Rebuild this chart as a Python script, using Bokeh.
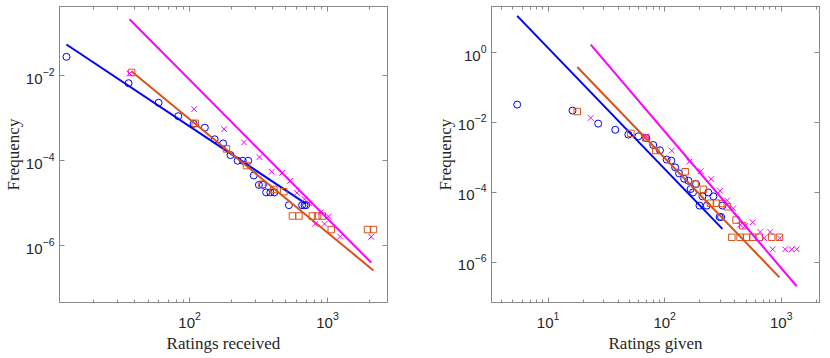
from bokeh.plotting import figure
from bokeh.layouts import row
from bokeh.models import FixedTicker, LogAxis, Range1d, CustomJSTickFormatter
from bokeh.embed import file_html
from bokeh.resources import INLINE
import numpy as np

# ---------------- data: ratings received (left) ----------------
recv_blue_x = [12.8, 36.1, 59.6, 82.8, 107, 129, 152, 175, 198, 223, 243, 266, 292, 318, 340,
               359, 385, 411, 525, 654, 681, 700]
recv_blue_y = [0.028, 0.0067, 0.00232, 0.00112, 7.4e-4, 6.0e-4, 3.2e-4, 2.55e-4, 1.36e-4, 1.0e-4,
               1.0e-4, 1.0e-4, 4.5e-5, 2.7e-5, 2.7e-5, 1.8e-5, 1.8e-5, 1.8e-5, 9.0e-6, 9.0e-6,
               9.0e-6, 9.0e-6]
recv_orange_x = [38.0, 110, 185, 259, 335, 408, 482, 557, 621, 776, 847, 916, 1065, 1950, 2153]
recv_orange_y = [0.012, 7.6e-4, 1.9e-4, 7.7e-5, 2.8e-5, 2.1e-5, 1.87e-5, 5.0e-6, 5.0e-6, 5.0e-6,
                 5.0e-6, 5.0e-6, 2.4e-6, 2.4e-6, 2.4e-6]
recv_mag_x = [36.7, 108, 178, 248, 321, 394, 470, 535, 601, 681, 734, 815, 894, 951, 1021, 1236, 2075]
recv_mag_y = [0.0113, 1.64e-3, 5.55e-4, 2.7e-4, 1.22e-4, 5.5e-5, 5.2e-5, 3.35e-5, 1.75e-5, 1.25e-5,
              9.9e-6, 3.26e-6, 6.1e-6, 3.26e-6, 4.9e-6, 1.64e-6, 1.62e-6]
# power-law fits: (exponent, value at x = 100)
recv_blue_fit = (2.16, 6.44e-4)
recv_orange_fit = (2.67, 9.5e-4)
recv_mag_fit = (3.27, 8.1e-3)

# ---------------- data: ratings given (right) ----------------
given_blue_x = [5.43, 16.2, 26.9, 37.7, 48.8, 59.5, 69.6, 79.8, 91.2, 104, 114, 123, 133, 147, 160,
                167, 175, 186, 199, 211, 230, 237, 262, 296, 305, 313]
given_blue_y = [0.0325, 0.0219, 0.0093, 0.00618, 0.00451, 0.00403, 0.00358, 0.00227, 0.0016, 8.7e-4,
                8.1e-4, 5.2e-4, 3.5e-4, 2.45e-4, 2.15e-4, 1.25e-4, 1.0e-4, 1.74e-4, 4.2e-5, 7.7e-5,
                4.2e-5, 1.0e-4, 7.7e-5, 1.98e-5, 1.98e-5, 4.2e-5]
given_orange_x = [17.8, 51.3, 68.5, 84, 150, 182, 215, 247, 278, 313, 345, 377, 410, 444, 467, 505,
                  569, 647, 828, 966]
given_orange_y = [0.0206, 0.0049, 0.00365, 0.00158, 3.9e-4, 1.74e-4, 1.23e-4, 4.9e-5, 4.9e-5, 4.8e-5,
                  3.9e-5, 5.2e-6, 1.62e-5, 5.2e-6, 1.12e-5, 5.2e-6, 5.2e-6, 5.2e-6, 5.2e-6, 5.2e-6]
given_mag_x = [23.2, 69.7, 115, 163, 204, 251, 299, 344, 387, 445, 491, 569, 661, 714, 805, 845, 971,
               1081, 1231, 1358]
given_mag_y = [0.0135, 0.00403, 0.00157, 7.6e-4, 4.07e-4, 2.42e-4, 1.11e-4, 5.9e-5, 3.5e-5, 1.18e-5,
               1.1e-5, 1.39e-5, 7.4e-6, 4.9e-6, 7.4e-6, 2.36e-6, 4.9e-6, 2.36e-6, 2.36e-6, 2.36e-6]
given_blue_fit = (3.46, 4.7e-4)
given_orange_fit = (3.47, 9.7e-4)
given_mag_fit = (3.91, 5.57e-3)

# axis settings
recv_xlim = (11.4, 2722)
recv_ylim = (4.6e-8, 0.428)
recv_yticks = [1e-6, 1e-4, 1e-2]
given_xlim = (3.27, 2130)
given_ylim = (7.1e-8, 20.8)
given_yticks = [1e-6, 1e-4, 1e-2, 1e0]
x_major = [1e1, 1e2, 1e3]
x_minor = [m * d for d in (1, 10, 100, 1000) for m in range(2, 10)]

BLUE = "#0000FF"
ORANGE = "#D95319"
MAGENTA = "#FF00FF"
AXC = "#8a8a8a"
TXT = "#262626"


def style_axis(ax, ticks, minor, show_labels=True):
    ax.ticker = FixedTicker(ticks=ticks, minor_ticks=minor)
    ax.axis_line_color = AXC
    ax.major_tick_line_color = AXC
    ax.minor_tick_line_color = AXC
    ax.major_tick_in = 5
    ax.major_tick_out = 0
    ax.minor_tick_in = 3
    ax.minor_tick_out = 0
    if show_labels:
        ax.major_label_text_font = "Liberation Sans"
        ax.major_label_text_font_size = "15px"
        ax.major_label_text_color = TXT
        ax.major_label_standoff = 5
        ax.axis_label_text_font = "Liberation Serif"
        ax.axis_label_text_font_size = "17px"
        ax.axis_label_text_font_style = "normal"
        ax.axis_label_text_color = TXT
    else:
        ax.formatter = CustomJSTickFormatter(code="return ' ';")
        ax.major_label_text_font_size = "1px"
        ax.major_label_text_alpha = 0
        ax.major_label_standoff = 0


def fit_line(p, xs, fit, color):
    alpha, y100 = fit
    xx = np.array([min(xs), max(xs)], dtype=float)
    yy = y100 * (xx / 100.0) ** (-alpha)
    p.line(xx, yy, line_color=color, line_width=2)


def make_panel(xlim, ylim, yticks, xlabel, ml, mr, series):
    p = figure(x_axis_type="log", y_axis_type="log", frame_width=328, frame_height=296,
               x_range=Range1d(*xlim), y_range=Range1d(*ylim),
               output_backend="svg", toolbar_location=None,
               min_border_left=ml, min_border_right=mr, min_border_top=6, min_border_bottom=40)
    p.xgrid.visible = False
    p.ygrid.visible = False
    p.outline_line_color = AXC
    p.background_fill_color = "white"
    p.border_fill_color = "white"
    style_axis(p.xaxis[0], x_major, x_minor)
    style_axis(p.yaxis[0], yticks, [])
    p.xaxis[0].axis_label = xlabel
    p.yaxis[0].axis_label = "Frequency"
    p.xaxis[0].major_label_standoff = 9
    p.xaxis[0].axis_label_standoff = 3
    p.yaxis[0].axis_label_standoff = 0
    top = LogAxis()
    style_axis(top, x_major, x_minor, show_labels=False)
    p.add_layout(top, "above")
    right = LogAxis()
    style_axis(right, yticks, [], show_labels=False)
    p.add_layout(right, "right")

    (bx, by, bf), (ox, oy, of), (mx, my, mf) = series
    p.scatter(bx, by, marker="circle", size=7, fill_color=None, line_color=BLUE, line_width=1)
    fit_line(p, bx, bf, BLUE)
    p.scatter(ox, oy, marker="square", size=6.5, fill_color=None, line_color=ORANGE, line_width=1)
    fit_line(p, ox, of, ORANGE)
    p.scatter(mx, my, marker="x", size=8, line_color=MAGENTA, line_width=1)
    fit_line(p, mx, mf, MAGENTA)
    return p


p1 = make_panel(recv_xlim, recv_ylim, recv_yticks, "Ratings received", 52, 20,
                [(recv_blue_x, recv_blue_y, recv_blue_fit),
                 (recv_orange_x, recv_orange_y, recv_orange_fit),
                 (recv_mag_x, recv_mag_y, recv_mag_fit)])
p2 = make_panel(given_xlim, given_ylim, given_yticks, "Ratings given", 84, 2,
                [(given_blue_x, given_blue_y, given_blue_fit),
                 (given_orange_x, given_orange_y, given_orange_fit),
                 (given_mag_x, given_mag_y, given_mag_fit)])

layout = row(p1, p2)
open("out.html", "w").write(file_html(layout, INLINE))
